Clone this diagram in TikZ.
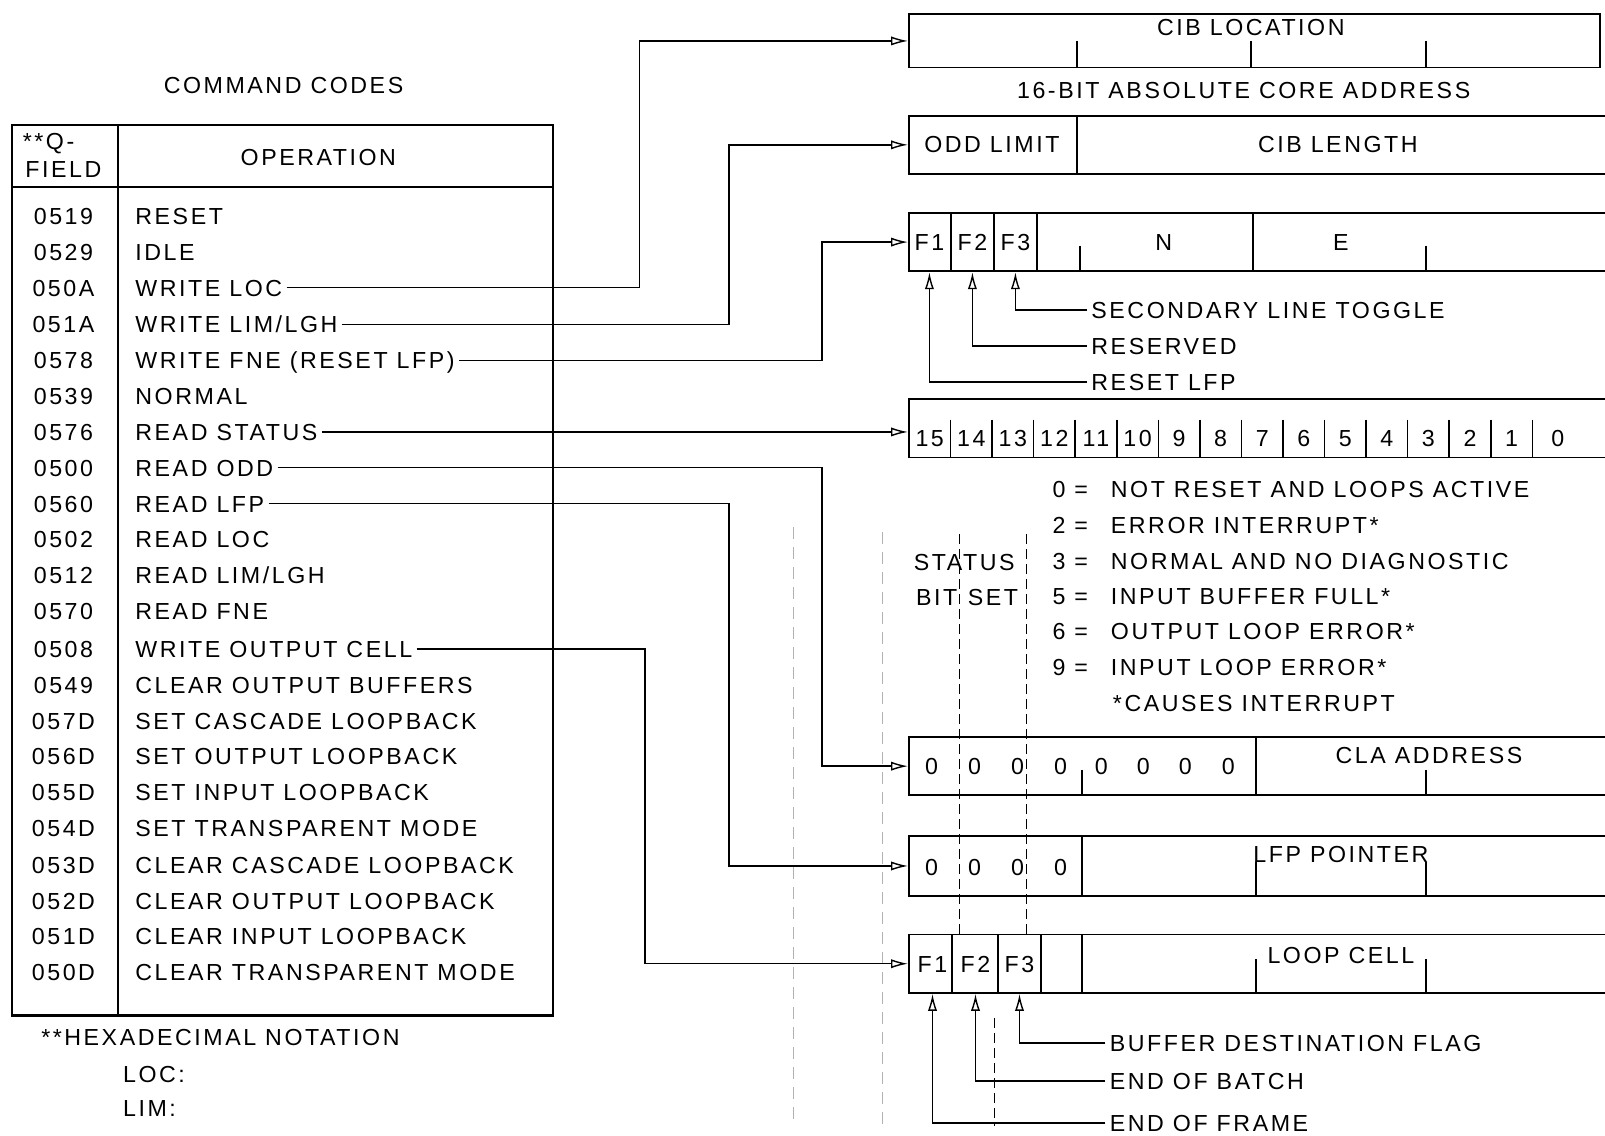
\documentclass[tikz,border=0pt]{standalone}
\usepackage{fontspec}
\setmainfont{Liberation Sans}[LetterSpace=11]
\usetikzlibrary{arrows.meta,positioning,fit}

\begin{document}
\begin{tikzpicture}[x=0.5118pt,y=-0.5118pt,
  every node/.style={font=\fontsize{11.6}{13}\selectfont,inner sep=2pt,text height=8.4pt,text depth=0pt},
  optext/.style={anchor=west},
  regbox/.style={draw,line width=.9pt,inner sep=0pt},
  tbl/.style={line width=1.1pt},
  divline/.style={line width=.8pt},
  feed/.style={line width=.7pt,-{Latex[open,length=8.5pt,width=4.6pt]}},
  guide/.style={line width=.5pt,dash pattern=on 5pt off 2.5pt},
  faint/.style={line width=.4pt,gray!60,dash pattern=on 6pt off 4pt}]
\useasboundingbox (0,0) rectangle (1568,1109);
\node (title) at (277,83) {COMMAND CODES};
% command table
\draw[tbl] (12,122) rectangle (540,992);
\draw[tbl] (12,183) -- (540,183);
\draw[tbl] (115,122) -- (115,992);
\node[anchor=west] (hdQ) at (18,138) {**Q-};
\node (hdField) at (62,165) {FIELD};
\node (hdOp) at (311,153) {OPERATION};
\node (c0519) at (62,211) {0519};
\node (c0529) at (62,246) {0529};
\node (c050A) at (62,281) {050A};
\node (c051A) at (62,317) {051A};
\node (c0578) at (62,352) {0578};
\node (c0539) at (62,387) {0539};
\node (c0576) at (62,422) {0576};
\node (c0500) at (62,457) {0500};
\node (c0560) at (62,492) {0560};
\node (c0502) at (62,527) {0502};
\node (c0512) at (62,562) {0512};
\node (c0570) at (62,597) {0570};
\node (c0508) at (62,634) {0508};
\node (c0549) at (62,669) {0549};
\node (c057D) at (62,704) {057D};
\node (c056D) at (62,739) {056D};
\node (c055D) at (62,774) {055D};
\node (c054D) at (62,809) {054D};
\node (c053D) at (62,845) {053D};
\node (c052D) at (62,880) {052D};
\node (c051D) at (62,915) {051D};
\node (c050D) at (62,950) {050D};
\node[optext] (opReset) at (128,211) {RESET};
\node[optext] (opIdle) at (128,246) {IDLE};
\node[optext] (opWLoc) at (128,281) {WRITE LOC};
\node[optext] (opWLim) at (128,317) {WRITE LIM/LGH};
\node[optext] (opWFne) at (128,352) {WRITE FNE (RESET LFP)};
\node[optext] (opNorm) at (128,387) {NORMAL};
\node[optext] (opRStat) at (128,422) {READ STATUS};
\node[optext] (opROdd) at (128,457) {READ ODD};
\node[optext] (opRLfp) at (128,492) {READ LFP};
\node[optext] (opRLoc) at (128,527) {READ LOC};
\node[optext] (opRLim) at (128,562) {READ LIM/LGH};
\node[optext] (opRFne) at (128,597) {READ FNE};
\node[optext] (opWCell) at (128,634) {WRITE OUTPUT CELL};
\node[optext] (opClrBuf) at (128,669) {CLEAR OUTPUT BUFFERS};
\node[optext] (opSetCas) at (128,704) {SET CASCADE LOOPBACK};
\node[optext] (opSetOut) at (128,739) {SET OUTPUT LOOPBACK};
\node[optext] (opSetIn) at (128,774) {SET INPUT LOOPBACK};
\node[optext] (opSetTr) at (128,809) {SET TRANSPARENT MODE};
\node[optext] (opClrCas) at (128,845) {CLEAR CASCADE LOOPBACK};
\node[optext] (opClrOut) at (128,880) {CLEAR OUTPUT LOOPBACK};
\node[optext] (opClrIn) at (128,915) {CLEAR INPUT LOOPBACK};
\node[optext] (opClrTr) at (128,950) {CLEAR TRANSPARENT MODE};
\node[anchor=west] (hexNote) at (36,1013) {**HEXADECIMAL NOTATION};
\node[anchor=west] (locNote) at (116,1049) {LOC:};
\node[anchor=west] (limNote) at (116,1083) {LIM:};
% registers
\node[regbox,fit={(888,14) (1563,66)}] (rCib) {};
\node (cibText) at (1222,26) {CIB LOCATION};
\draw[divline] (1052,40) -- (1052,66) (1222,40) -- (1222,66) (1393,40) -- (1393,66);
\node (coreText) at (1215,88) {16-BIT ABSOLUTE CORE ADDRESS};
\node[regbox,fit={(888,113) (1580,170)}] (rOdd) {};
\draw[divline] (1052,113) -- (1052,170);
\node (oddText) at (969,141) {ODD LIMIT};
\node (lenText) at (1307,141) {CIB LENGTH};
\node[regbox,fit={(888,208) (1580,265)}] (rFne) {};
\draw[divline] (929,208) -- (929,265) (971,208) -- (971,265) (1013,208) -- (1013,265) (1224,208) -- (1224,265);
\draw[divline] (1055,240) -- (1055,265) (1393,240) -- (1393,265);
\node (fneF1) at (908,237) {F1};
\node (fneF2) at (950,237) {F2};
\node (fneF3) at (992,237) {F3};
\node (fneN) at (1137,237) {N};
\node (fneE) at (1310,237) {E};
\node[anchor=west] (lSec) at (1062,303) {SECONDARY LINE TOGGLE};
\node[anchor=west] (lRes) at (1062,338) {RESERVED};
\node[anchor=west] (lRst) at (1062,373) {RESET LFP};
\draw[feed] (lSec.west) -| (fneF3 |- rFne.south);
\draw[feed] (lRes.west) -| (fneF2 |- rFne.south);
\draw[feed] (lRst.west) -| (fneF1 |- rFne.south);
\node[regbox,fit={(888,390) (1580,447)}] (rStat) {};
\draw[divline] (928.6,410) -- (928.6,447) (969.2,410) -- (969.2,447) (1009.8,410) -- (1009.8,447)
  (1050.4,410) -- (1050.4,447) (1091,410) -- (1091,447) (1131.6,410) -- (1131.6,447)
  (1172.2,410) -- (1172.2,447) (1212.8,410) -- (1212.8,447) (1253.4,410) -- (1253.4,447)
  (1294,410) -- (1294,447) (1334.6,410) -- (1334.6,447) (1375.2,410) -- (1375.2,447)
  (1415.8,410) -- (1415.8,447) (1456.4,410) -- (1456.4,447) (1497,410) -- (1497,447);
\node (b15) at (908.3,428) {15};
\node (b14) at (948.9,428) {14};
\node (b13) at (989.5,428) {13};
\node (b12) at (1030.1,428) {12};
\node (b11) at (1070.7,428) {11};
\node (b10) at (1111.3,428) {10};
\node (b9) at (1151.9,428) {9};
\node (b8) at (1192.5,428) {8};
\node (b7) at (1233.1,428) {7};
\node (b6) at (1273.7,428) {6};
\node (b5) at (1314.3,428) {5};
\node (b4) at (1354.9,428) {4};
\node (b3) at (1395.5,428) {3};
\node (b2) at (1436.1,428) {2};
\node (b1) at (1476.7,428) {1};
\node (b0) at (1522,428) {0};
% status legend
\node[anchor=west] (n0) at (1024,478) {0 =};
\node[anchor=west] (n2) at (1024,513) {2 =};
\node[anchor=west] (n3) at (1024,548) {3 =};
\node[anchor=west] (n5) at (1024,582) {5 =};
\node[anchor=west] (n6) at (1024,617) {6 =};
\node[anchor=west] (n9) at (1024,652) {9 =};
\node[anchor=west] (st0) at (1081,478) {NOT RESET AND LOOPS ACTIVE};
\node[anchor=west] (st2) at (1081,513) {ERROR INTERRUPT*};
\node[anchor=west] (st3) at (1081,548) {NORMAL AND NO DIAGNOSTIC};
\node[anchor=west] (st5) at (1081,582) {INPUT BUFFER FULL*};
\node[anchor=west] (st6) at (1081,617) {OUTPUT LOOP ERROR*};
\node[anchor=west] (st9) at (1081,652) {INPUT LOOP ERROR*};
\node[anchor=west] (stNote) at (1083,687) {*CAUSES INTERRUPT};
\node (stStatus) at (942,549) {STATUS};
\node (stBit) at (915,583) {BIT};
\node (stSet) at (970,583) {SET};
\draw[guide] (937,522) -- (937,913);
\draw[guide] (1003,522) -- (1003,913);
\draw[guide] (972,995) -- (972,1100);
\draw[faint] (775,515) -- (775,1095);
\draw[faint] (862,520) -- (862,1100);
\node[regbox,fit={(888,720) (1580,777)}] (rCla) {};
\draw[divline] (1227,720) -- (1227,777) (1057,752) -- (1057,777) (1393,752) -- (1393,777);
\node (cla0) at (910,748) {0};
\node (cla1) at (952,748) {0};
\node (cla2) at (994,748) {0};
\node (cla3) at (1036,748) {0};
\node (cla4) at (1076,748) {0};
\node (cla5) at (1117,748) {0};
\node (cla6) at (1158,748) {0};
\node (cla7) at (1200,748) {0};
\node (claText) at (1396,738) {CLA ADDRESS};
\node[regbox,fit={(888,817) (1580,875)}] (rLfp) {};
\draw[divline] (1057,817) -- (1057,875) (1227,842) -- (1227,875) (1393,842) -- (1393,875);
\node (lfp0) at (910,847) {0};
\node (lfp1) at (952,847) {0};
\node (lfp2) at (994,847) {0};
\node (lfp3) at (1036,847) {0};
\node (lfpText) at (1310,834) {LFP POINTER};
\node[regbox,fit={(888,913) (1580,970)}] (rLoop) {};
\draw[divline] (930,913) -- (930,970) (975,913) -- (975,970) (1017,913) -- (1017,970) (1057,913) -- (1057,970);
\draw[divline] (1227,937) -- (1227,970) (1393,937) -- (1393,970);
\node (loopF1) at (911,942) {F1};
\node (loopF2) at (953,942) {F2};
\node (loopF3) at (996,942) {F3};
\node (loopText) at (1310,933) {LOOP CELL};
\node[anchor=west] (lBuf) at (1080,1019) {BUFFER DESTINATION FLAG};
\node[anchor=west] (lBatch) at (1080,1056) {END OF BATCH};
\node[anchor=west] (lFrame) at (1080,1097) {END OF FRAME};
\draw[feed] (lBuf.west) -| (loopF3 |- rLoop.south);
\draw[feed] (lBatch.west) -| (loopF2 |- rLoop.south);
\draw[feed] (lFrame.west) -| (loopF1 |- rLoop.south);
% connectors
\coordinate (kLoc) at (625,0);
\coordinate (kLim) at (712,0);
\coordinate (kFne) at (803,0);
\coordinate (kCell) at (630,0);
\draw[feed] (opWLoc.east) -| (kLoc |- rCib.west) -- (rCib.west);
\draw[feed] (opWLim.east) -| (kLim |- rOdd.west) -- (rOdd.west);
\draw[feed] (opWFne.east) -| (kFne |- rFne.west) -- (rFne.west);
\draw[feed] (opRStat.east) -- (opRStat.east -| rStat.west);
\draw[feed] (opROdd.east) -| (kFne |- rCla.west) -- (rCla.west);
\draw[feed] (opRLfp.east) -| (kLim |- rLfp.west) -- (rLfp.west);
\draw[feed] (opWCell.east) -| (kCell |- rLoop.west) -- (rLoop.west);
\end{tikzpicture}
\end{document}
